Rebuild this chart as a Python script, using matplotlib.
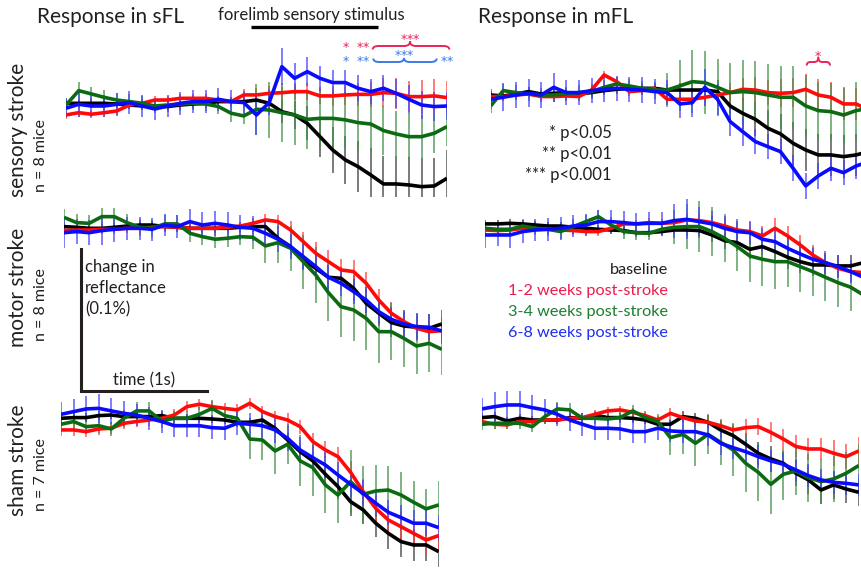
import numpy as np
import matplotlib
matplotlib.use("Agg")
import matplotlib.pyplot as plt
from matplotlib.path import Path
from matplotlib.patches import PathPatch
from matplotlib.transforms import blended_transform_factory

plt.rcParams['font.family'] = ['Lato', 'DejaVu Sans']

# ---------------- data ----------------
# time axis: 31 samples, 0.1 s apart (seconds)
time_s = np.round(np.arange(31) * 0.1, 1)
stim_on_s, stim_off_s = 1.46, 2.46          # forelimb sensory stimulus (1 s)
scale_pct_units = 100                       # 0.1 % expressed in data units (0.001 %)
scale_time_s = 1.0

# change in reflectance, units of 0.001 %
sfl_sensory_black = [0,0,0,0,-0.5,-1.2,-1.9,-2.3,-2.3,-1.2,-0.5,0,1.2,1.2,1.2,2.3,0,-5.9,-8.2,-14.1,-23.5,-32.9,-39.9,-44.6,-50.5,-56.8,-56.8,-57.5,-58.7,-58.2,-52.8]
sfl_sensory_red = [-8.2,-6.6,-7.7,-6.6,-5.4,-1.2,0,2.3,2.3,3.5,3.5,3.5,2.3,1.2,5.9,5.9,7.0,7.5,8.2,8.2,5.2,5.2,5.9,6.3,6.3,7.5,7.0,4.7,4.7,5.2,4.0]
sfl_sensory_green = [-1.2,8.9,6.6,4.2,2.3,1.2,0,-1.9,-1.2,-0.5,0,-0.5,-2.3,-7.0,-8.9,-4.2,-4.7,-6.6,-8.2,-11.3,-10.6,-10.6,-11.7,-13.6,-14.6,-19.2,-21.6,-23.5,-23.5,-21.1,-16.4]
sfl_sensory_blue = [-3.5,-0.7,-1.9,-1.9,-0.7,0.5,-1.9,-4.0,-1.9,0,1.2,1.2,2.8,1.2,0.5,-8.2,0.5,25.8,17.6,22.3,17.6,14.6,14.6,10.6,8.2,10.6,7.0,2.8,-1.2,-2.3,-1.9]
sfl_sensory_black_err = [3,3,3,3,3,3,3,3,3,3,3,3,3,3,4,5,6,8,10,12,14,16,17,18,19,20,20,20,20,20,20]
sfl_sensory_red_err = [3,3,3,3,3,3,3,3,3,3,3,3,3,3,4,5,5,5,6,6,6,7,7,8,9,10,11,11,12,12,12]
sfl_sensory_green_err = [5,6,5,5,5,5,5,5,5,5,5,5,5,6,6,18,20,21,21,21,21,20,20,20,19,17,16,16,15,14,14]
sfl_sensory_blue_err = [7,9,8,8,8,8,8,8,8,8,8,8,8,8,8,14,9,13,11,10,9,9,9,9,9,9,10,10,10,10,10]

mfl_sensory_black = [-1.2,-1.9,-0.5,1.2,-0.5,0,0.5,-0.5,0.5,1.9,2.8,3.5,3.5,3.5,2.3,2.3,2.3,2.3,1.2,-8.9,-14.1,-18.3,-24.6,-28.6,-35.2,-39.9,-43.4,-43.4,-44.6,-43.4,-41.1]
mfl_sensory_red = [-2.3,-2.3,-1.2,-0.5,-2.3,-2.3,-1.9,-2.3,2.3,12.9,8.2,1.2,1.9,3.5,-4.2,-4.2,-4.2,-2.8,-1.2,0.5,2.8,2.3,0.5,0,0.5,2.8,-1.2,-2.8,-7.5,-7.5,-11.7]
mfl_sensory_green = [-8.9,1.9,0.5,-0.5,-1.2,-1.2,-0.5,0.5,1.2,4.2,6.6,5.2,3.5,2.3,2.3,5.2,8.2,7.5,4.2,0.5,1.2,0.5,-1.2,-2.8,-2.8,-8.9,-12.2,-12.9,-15.3,-12.2,-10.6]
mfl_sensory_blue = [-4.2,-2.8,-1.2,0,-1.2,4.2,0.5,0.5,1.9,2.8,3.5,2.8,2.3,1.2,0.5,-7.5,-6.6,4.2,-4.2,-19.9,-27.0,-34.0,-37.6,-41.1,-52.8,-65.2,-58.2,-52.8,-55.9,-51.2,-48.1]
mfl_sensory_black_err = [3,3,3,3,3,3,3,3,3,3,3,3,3,3,4,5,6,7,8,10,11,12,13,14,15,15,15,15,15,15,15]
mfl_sensory_red_err = [3,3,3,3,3,3,3,3,3,3,3,3,3,3,4,5,5,6,6,7,8,9,9,10,10,11,11,11,11,11,11]
mfl_sensory_green_err = [5,5,5,5,5,5,5,5,5,5,5,5,5,6,12,18,22,22,20,21,22,22,22,22,22,22,20,20,20,20,20]
mfl_sensory_blue_err = [7,10,9,10,9,10,9,9,9,9,9,9,9,9,9,10,10,13,11,10,10,9,9,9,9,9,9,9,9,9,9]

sfl_motor_black = [1.2,0.7,0,0,0.7,1.6,2.3,2.3,1.2,0.7,0,0,0,0,0.7,1.2,1.2,-7.0,-12.9,-22.3,-28.2,-34.5,-35.2,-42.2,-52.8,-59.8,-66.4,-68.8,-69.7,-70.4,-67.4]
sfl_motor_red = [-1.6,-1.2,-1.2,-0.7,-0.7,0,0,0.7,1.2,0.7,0,0,0,0.7,1.6,3.5,5.9,4.7,-1.2,-9.4,-17.6,-23.5,-29.3,-30.5,-38.7,-50.5,-59.8,-65.7,-70.4,-72.8,-72.1]
sfl_motor_green = [7.7,4.0,3.5,8.2,8.2,4.0,0.7,0,3.1,3.1,-3.5,-5.9,-7.7,-7.0,-5.9,-6.3,-12.4,-10.1,-14.1,-23.5,-32.9,-45.3,-55.2,-57.5,-63.4,-72.8,-72.8,-77.5,-82.9,-81.0,-85.2]
sfl_motor_blue = [-3.1,-2.3,-3.1,-1.6,-0.7,0,0,-0.7,2.3,1.2,4.7,2.3,3.5,2.3,0.7,0,-3.5,-7.7,-12.9,-19.9,-27.0,-34.5,-38.7,-44.6,-50.5,-58.7,-64.1,-67.4,-69.2,-69.7,-72.3]
sfl_motor_black_err = [3,3,3,3,3,3,3,3,3,3,3,3,3,3,3,4,4,5,6,7,8,8,8,9,9,9,10,10,10,10,10]
sfl_motor_red_err = [3,3,3,3,3,3,3,3,3,3,3,3,3,3,3,4,4,5,6,7,8,8,8,8,8,8,8,8,8,8,8]
sfl_motor_green_err = [6,6,6,6,6,6,6,6,6,6,6,6,6,6,6,8,12,14,16,19,20,20,21,22,22,22,20,20,20,20,20]
sfl_motor_blue_err = [11,9,9,10,9,8,8,8,8,8,9,9,9,9,9,9,9,9,9,9,9,9,9,9,9,9,9,9,9,9,9]

mfl_motor_black = [3.1,3.1,3.5,3.1,2.3,1.6,1.6,0.7,0,-0.7,-1.2,-1.6,-3.1,-3.1,-2.3,-1.2,-1.2,-1.6,-4.7,-8.7,-10.1,-14.8,-12.9,-16.4,-20.4,-23.5,-25.8,-25.8,-26.5,-26.5,-24.2]
mfl_motor_red = [-1.2,-1.6,-1.2,0,-0.7,-0.7,-1.2,-1.6,-2.3,-2.3,0,3.1,3.1,4.0,3.5,4.0,5.9,5.4,4.0,1.6,-1.2,-2.3,-5.4,0,-5.4,-11.7,-18.8,-24.2,-28.2,-30.5,-31.2]
mfl_motor_green = [0,-0.7,-0.7,1.6,0,-0.7,-2.3,1.2,4.7,8.2,2.3,-2.3,-3.1,-3.5,-0.7,0.7,1.2,1.2,-2.3,-7.0,-12.9,-19.5,-21.8,-23.5,-23.5,-27.0,-30.5,-34.5,-38.3,-41.5,-46.9]
mfl_motor_blue = [-4.7,-4.7,-4.7,-2.3,-1.2,-0.7,0,1.6,2.3,4.7,4.7,4.0,3.1,3.5,3.5,5.4,6.3,4.7,3.1,0,-2.3,-3.1,-7.7,-9.4,-14.1,-18.1,-21.8,-24.2,-27.0,-30.5,-34.5]
mfl_motor_black_err = [3,3,3,3,3,3,3,3,3,3,3,3,3,3,3,3,4,5,5,6,6,7,7,7,8,8,8,8,8,8,8]
mfl_motor_red_err = [3,3,3,3,3,3,3,3,3,3,3,3,3,3,3,3,4,5,5,6,6,7,7,7,7,7,7,7,7,7,7]
mfl_motor_green_err = [5,5,5,5,5,5,5,5,5,5,6,5,5,5,5,12,16,18,17,17,17,18,19,19,18,18,17,17,17,17,17]
mfl_motor_blue_err = [9,8,9,8,8,8,8,8,8,8,8,8,8,8,8,12,14,10,9,9,9,8,8,8,8,8,8,8,8,8,8]

sfl_sham_black = [0,0.5,0.5,1.9,2.3,1.2,1.2,1.2,1.9,0,0,0,-0.5,-1.2,-2.8,-2.8,-1.2,-7.0,-15.3,-23.5,-30.0,-39.4,-48.1,-58.7,-64.5,-73.9,-81.0,-86.8,-89.2,-89.2,-93.9]
sfl_sham_red = [-8.2,-8.2,-9.4,-7.5,-7.0,-3.5,-2.3,-1.2,0,2.3,8.2,9.9,8.2,7.0,5.9,10.6,4.7,1.2,-1.2,-5.9,-16.4,-22.3,-27.0,-38.0,-51.6,-63.4,-71.6,-76.3,-81.0,-85.7,-82.6]
sfl_sham_green = [-4.2,-2.3,-5.9,-5.2,-7.5,0,5.2,5.2,-1.9,0,0,2.8,7.0,1.9,0,-14.6,-15.3,-23.0,-18.3,-30.0,-34.7,-46.9,-54.0,-44.6,-53.5,-51.2,-50.5,-54.0,-59.1,-63.8,-61.0]
sfl_sham_blue = [2.8,4.7,6.6,7.0,5.2,3.5,2.3,0,-2.3,-5.2,-5.2,-5.2,-6.6,-7.0,-3.5,-4.2,-5.2,-8.2,-14.1,-22.3,-27.7,-32.9,-39.9,-46.5,-52.8,-59.8,-66.2,-69.9,-73.9,-73.9,-77.0]
sfl_sham_black_err = [3,3,3,3,3,3,3,3,3,3,3,3,3,3,3,3,3,4,5,6,7,8,9,10,10,10,11,11,11,11,11]
sfl_sham_red_err = [4,4,4,4,4,4,4,4,4,4,4,4,4,4,4,4,4,4,5,5,6,6,7,8,9,9,10,10,10,10,10]
sfl_sham_green_err = [5,5,5,5,5,6,6,6,5,5,5,5,6,5,5,14,14,16,14,18,20,20,20,22,20,18,17,16,15,14,17]
sfl_sham_blue_err = [9,9,9,10,9,9,8,8,8,8,8,8,8,8,8,8,9,9,9,9,9,9,9,9,9,9,9,9,9,9,9]

mfl_sham_black = [0.5,1.2,-1.9,0,-1.2,-1.2,-1.2,0.5,0,2.3,0.5,0.5,0,-1.2,-4.2,-4.2,1.2,0,-2.8,-8.2,-12.2,-18.3,-24.6,-28.6,-31.7,-38.7,-43.4,-50.5,-46.9,-49.8,-52.1]
mfl_sham_red = [-2.3,-4.2,-4.7,-2.3,-2.3,-1.2,-1.2,0,0.5,2.8,5.2,5.9,4.2,1.9,-1.2,3.5,0.5,-1.9,-2.8,-5.2,-8.2,-6.6,-5.9,-9.9,-14.6,-19.9,-21.6,-21.6,-24.6,-27.0,-23.0]
mfl_sham_green = [-4.2,-3.5,-3.5,-3.5,-5.9,1.2,6.6,5.9,0,0,-0.5,0.5,5.2,0.5,-2.3,-13.6,-11.3,-17.6,-11.3,-16.9,-22.3,-31.7,-38.0,-46.5,-39.4,-37.1,-41.8,-44.6,-42.7,-38.7,-33.3]
mfl_sham_blue = [6.6,8.2,9.4,9.4,7.5,5.9,2.8,-1.2,-4.2,-7.0,-7.0,-7.5,-9.4,-9.4,-7.0,-8.9,-9.4,-9.4,-11.7,-17.6,-20.7,-23.5,-27.0,-30.0,-32.4,-36.4,-40.4,-43.4,-45.1,-45.8,-46.9]
mfl_sham_black_err = [3,3,3,3,3,3,3,3,3,3,3,3,3,3,3,4,4,4,5,6,7,8,8,9,9,9,10,10,10,10,10]
mfl_sham_red_err = [3,3,3,3,3,3,3,3,3,3,3,3,3,3,3,4,4,4,4,5,5,6,6,7,7,8,8,8,9,9,10]
mfl_sham_green_err = [4,4,4,4,4,5,5,5,4,4,4,4,4,4,5,12,14,16,14,16,18,20,20,21,18,17,17,16,16,15,15]
mfl_sham_blue_err = [8,10,10,10,9,8,8,8,8,8,8,8,8,8,8,8,8,8,8,8,8,8,8,8,8,8,8,8,8,8,8]

group_labels = ["baseline", "1-2 weeks post-stroke", "3-4 weeks post-stroke", "6-8 weeks post-stroke"]
row_labels = ["sensory stroke", "motor stroke", "sham stroke"]
row_n = ["n = 8 mice", "n = 8 mice", "n = 7 mice"]
col_titles = ["Response in sFL", "Response in mFL"]
p_labels = ["* p<0.05", "** p<0.01", "*** p<0.001"]

# ---------------- styles ----------------
W, H = 862, 572
PX_PER_UNIT = 1.42
line_cols = ['#000000', '#ff0a0a', '#0c6b12', '#0a0aff']
err_cols = ['#3a3a3a', '#ff3a3a', '#3f8f45', '#4040ff']
text_cols = ['#231f20', '#ec1c4b', '#1b7f30', '#1e2ff0']
sig_red, sig_blue = '#ea2358', '#3b7ae6'
TXT = '#231f20'

fig = plt.figure(figsize=(W / 100, H / 100), dpi=100)
ov = fig.add_axes([0, 0, 1, 1])
ov.set_xlim(0, W)
ov.set_ylim(H, 0)
ov.axis('off')

# panel geometry in pixels: x at first sample, x at last sample, y of zero, clip top, clip bottom
panel_geom = [
    (66, 447, 103.3, 40, 197),
    (490.7, 868.7, 93.3, 50, 200),
    (64, 441.7, 228.3, 200, 375),
    (485, 863.3, 228.3, 196, 322),
    (61, 438.7, 418.3, 388, 572),
    (482, 858.7, 418.3, 385, 520),
]
panel_data = [
    (sfl_sensory_black, sfl_sensory_red, sfl_sensory_green, sfl_sensory_blue,
     sfl_sensory_black_err, sfl_sensory_red_err, sfl_sensory_green_err, sfl_sensory_blue_err),
    (mfl_sensory_black, mfl_sensory_red, mfl_sensory_green, mfl_sensory_blue,
     mfl_sensory_black_err, mfl_sensory_red_err, mfl_sensory_green_err, mfl_sensory_blue_err),
    (sfl_motor_black, sfl_motor_red, sfl_motor_green, sfl_motor_blue,
     sfl_motor_black_err, sfl_motor_red_err, sfl_motor_green_err, sfl_motor_blue_err),
    (mfl_motor_black, mfl_motor_red, mfl_motor_green, mfl_motor_blue,
     mfl_motor_black_err, mfl_motor_red_err, mfl_motor_green_err, mfl_motor_blue_err),
    (sfl_sham_black, sfl_sham_red, sfl_sham_green, sfl_sham_blue,
     sfl_sham_black_err, sfl_sham_red_err, sfl_sham_green_err, sfl_sham_blue_err),
    (mfl_sham_black, mfl_sham_red, mfl_sham_green, mfl_sham_blue,
     mfl_sham_black_err, mfl_sham_red_err, mfl_sham_green_err, mfl_sham_blue_err),
]

axes = []
for (x0, x1, yref, top, bot), d in zip(panel_geom, panel_data):
    ax = fig.add_axes([x0 / W, 1 - bot / H, (x1 - x0) / W, (bot - top) / H])
    ax.set_xlim(time_s[0], time_s[-1])
    ax.set_ylim(-(bot - yref) / PX_PER_UNIT, (yref - top) / PX_PER_UNIT)
    ax.axis('off')
    ax.patch.set_alpha(0)
    for k in range(4):
        v = np.asarray(d[k], float)
        e = np.asarray(d[k + 4], float)
        ax.vlines(time_s, v - e, v + e, colors=err_cols[k], lw=1.1, alpha=0.85, zorder=1 + 0.1 * k)
    for k in range(4):
        ax.plot(time_s, d[k], color=line_cols[k], lw=2.6, zorder=3 + 0.1 * k,
                solid_joinstyle='round', solid_capstyle='butt')
    axes.append(ax)

# scale bar (in the sFL motor panel's data units)
ax3 = axes[2]
sb_t0, sb_top = 0.135, -14.6
ax3.plot([sb_t0, sb_t0, sb_t0 + scale_time_s],
         [sb_top, sb_top - scale_pct_units, sb_top - scale_pct_units],
         color=TXT, lw=2.2, clip_on=False, solid_joinstyle='miter', zorder=5)

# stimulus bar
ax1 = axes[0]
tr = blended_transform_factory(ax1.transData, fig.transFigure)
ax1.plot([stim_on_s, stim_off_s], [1 - 27 / H, 1 - 27 / H], transform=tr,
         color='black', lw=2.4, clip_on=False, solid_capstyle='butt')

def txt(x, y, s, **kw):
    kw.setdefault('color', TXT)
    ov.text(x, y, s, **kw)

# titles
txt(37, 17, col_titles[0], fontsize=15, ha='left', va='center')
txt(478, 17, col_titles[1], fontsize=15, ha='left', va='center')
txt(311, 15, "forelimb sensory stimulus", fontsize=12, ha='center', va='center')

# row labels
row_y = [(130, 156), (287, 305), (460, 475)]
for (ya, yb), lab, n in zip(row_y, row_labels, row_n):
    txt(18, ya, lab, fontsize=15, rotation=90, ha='center', va='center')
    txt(41, yb, n, fontsize=11.5, rotation=90, ha='center', va='center')

# scale bar text
txt(85, 267, "change in", fontsize=12, ha='left', va='center')
txt(85, 288, "reflectance", fontsize=12, ha='left', va='center')
txt(85, 309, "(0.1%)", fontsize=12, ha='left', va='center')
txt(144, 380, "time (1s)", fontsize=12, ha='center', va='center')

# group legend
for lab, col, y in zip(group_labels, text_cols, [270, 291, 312, 333]):
    txt(668, y, lab, fontsize=11.7, ha='right', va='center', color=col)

# p-value legend
for lab, y in zip(p_labels, [133, 154, 175]):
    txt(612, y, lab, fontsize=12, ha='right', va='center')

# significance marks
def stars(x, y, n, color):
    s = '$' + '{*}' * n + '$'
    txt(x, y, s, color=color, fontsize=9, ha='center', va='center')

def brace(x0, x1, xm, y, end_dy, tip_dy, color):
    r = min(6.0, (x1 - x0) / 6)
    verts = [(x0, y + end_dy), (x0, y), (x0 + r, y), (xm - r, y), (xm, y), (xm, y + tip_dy),
             (xm, y), (xm + r, y), (x1 - r, y), (x1, y), (x1, y + end_dy)]
    codes = [Path.MOVETO, Path.CURVE3, Path.CURVE3, Path.LINETO, Path.CURVE3, Path.CURVE3,
             Path.CURVE3, Path.CURVE3, Path.LINETO, Path.CURVE3, Path.CURVE3]
    ov.add_patch(PathPatch(Path(verts, codes), fill=False, edgecolor=color, lw=1.4))

stars(345.7, 45.5, 1, sig_red)
stars(363.3, 45.5, 2, sig_red)
stars(410, 37.3, 3, sig_red)
stars(345.7, 58.7, 1, sig_blue)
stars(363.3, 58.7, 2, sig_blue)
stars(404, 53.5, 3, sig_blue)
stars(447.3, 58.7, 2, sig_blue)
brace(372.7, 449.3, 410, 46, 3.5, -4.5, sig_red)
brace(373.3, 436.7, 404, 62, -3.5, -4.0, sig_blue)
stars(818.3, 54, 1, sig_red)
brace(806.7, 830, 818.3, 62, 3.5, -4.5, sig_red)

fig.savefig("out.png", dpi=100)
